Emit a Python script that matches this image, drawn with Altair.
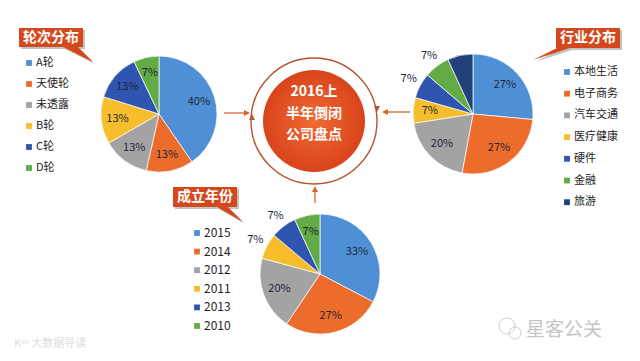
import altair as alt
import pandas as pd

FONT = "Noto Sans CJK SC"
PALETTE = ["#4f8fd6", "#ec6c2c", "#a3a3a3", "#f6be2c", "#2f55b0", "#63ab45", "#22407a"]
ACCENT = "#d4481e"

# ---- data ----
round_cats = ["A轮", "天使轮", "未透露", "B轮", "C轮", "D轮"]
round_vals = [40, 13, 13, 13, 13, 7]
round_modes = ["in", "in", "in", "in", "in", "in"]

ind_cats = ["本地生活", "电子商务", "汽车交通", "医疗健康", "硬件", "金融", "旅游"]
ind_vals = [27, 27, 20, 7, 7, 7, 7]
ind_modes = ["in", "in", "in", "in", "out", "out", "none"]

year_cats = ["2015", "2014", "2012", "2011", "2013", "2010"]
year_vals = [33, 27, 20, 7, 7, 7]
year_modes = ["in", "in", "in", "out", "out", "in"]

color_scale = alt.Scale(domain=list(range(7)), range=PALETTE)
ONE = alt.Data(values=[{}])


def pie(cats, vals, modes, cx, cy, r):
    df = pd.DataFrame({"cat": cats, "val": vals, "mode": modes, "idx": list(range(len(cats)))})
    base = alt.Chart(df).encode(
        theta=alt.Theta("val:Q", stack="normalize"),
        order=alt.Order("idx:Q"),
        x=alt.value(cx), y=alt.value(cy),
    )
    arcs = base.mark_arc(outerRadius=r, stroke="white", strokeWidth=0.7).encode(
        color=alt.Color("idx:O", scale=color_scale, legend=None)
    )
    lab = base.transform_calculate(
        tin="datum.mode == 'in' ? datum.val + '%' : ''",
        tout="datum.mode == 'out' ? datum.val + '%' : ''",
    )
    t_in = lab.mark_text(radius=r * 0.72, font=FONT, fontSize=11, color="#1e2636").encode(text="tin:N")
    t_out = lab.mark_text(radius=r + 13, font=FONT, fontSize=11, color="#1e2636").encode(text="tout:N")
    return [arcs, t_in, t_out]


def legend(cats, sx, tx, y0, dy, fs):
    df = pd.DataFrame({"cat": cats, "idx": list(range(len(cats)))})
    base = alt.Chart(df).transform_calculate(py=f"{y0} + datum.idx * {dy}")
    sq = base.mark_square(size=34, opacity=1).encode(
        x=alt.value(sx), y=alt.Y("py:Q", scale=None),
        color=alt.Color("idx:O", scale=color_scale, legend=None),
    )
    txt = base.mark_text(align="left", baseline="middle", font=FONT, fontSize=fs, color="#222").encode(
        x=alt.value(tx), y=alt.Y("py:Q", scale=None), text="cat:N"
    )
    return [sq, txt]


def shape(path, x, y, color, opacity=1.0):
    return alt.Chart(ONE).mark_point(shape=path, size=4, filled=True, color=color, opacity=opacity, strokeWidth=0).encode(
        x=alt.value(x), y=alt.value(y)
    )


def label(text, x, y, fs, color, weight="normal", align="center"):
    return alt.Chart(ONE).mark_text(font=FONT, fontSize=fs, color=color, fontWeight=weight,
                                    align=align, baseline="middle").encode(
        x=alt.value(x), y=alt.value(y), text=alt.value(text)
    )


def callout(title, x, y, path, tx, ty):
    return [
        shape(path, x + 2, y + 2, "#777", 0.45),
        shape(path, x, y, ACCENT),
        label(title, tx, ty, 14, "white", "bold"),
    ]


layers = []
# callout boxes
layers += callout("轮次分布", 11, 20, "M0,0 L64,0 L64,19 L59,19 L74,34 L44,19 L0,19 Z", 43, 29.5)
layers += callout("行业分布", 548, 20, "M0,0 L64,0 L64,20 L14,20 L-23,32 L1,20 L0,20 Z", 580, 30)
layers += callout("成立年份", 165, 179, "M0,0 L64,0 L64,20 L55,20 L70,35 L44,20 L0,20 Z", 197, 189)

# pies
layers += pie(round_cats, round_vals, round_modes, 151, 106, 58)
layers += pie(ind_cats, ind_vals, ind_modes, 465, 106, 60)
layers += pie(year_cats, year_vals, year_modes, 312, 266, 60)

# legends
layers += legend(round_cats, 21, 28, 55, 21, 11)
layers += legend(ind_cats, 559, 566, 64, 21.7, 11)
layers += legend(year_cats, 189, 196, 225, 18.6, 12)

# central circle
grad = alt.RadialGradient(gradient="radial", stops=[
    alt.GradientStop(offset=0, color="#f06a33"),
    alt.GradientStop(offset=1, color="#d9441b"),
])
layers.append(alt.Chart(ONE).mark_point(shape="circle", size=102 ** 2, filled=True, fill=grad, opacity=1, strokeWidth=0).encode(
    x=alt.value(306), y=alt.value(113)))
layers.append(alt.Chart(ONE).mark_point(shape="circle", size=126 ** 2, filled=False, stroke="#b4532c", strokeWidth=1.4, opacity=1).encode(
    x=alt.value(306), y=alt.value(113)))
layers.append(shape("M0,-4 L-3,2 L3,2 Z", 244, 110, "#b4532c"))
layers.append(shape("M0,4 L-3,-2 L3,-2 Z", 369, 100, "#b4532c"))
layers.append(label("2016上", 306, 84, 14, "white", "bold"))
layers.append(label("半年倒闭", 306, 106, 14, "white", "bold"))
layers.append(label("公司盘点", 306, 127, 14, "white", "bold"))

# arrows
AR = "#d9622b"
layers.append(alt.Chart(ONE).mark_rule(color=AR, strokeWidth=1.3).encode(x=alt.value(216), x2=alt.value(238), y=alt.value(105)))
layers.append(shape("M0,0 L-6,-3 L-6,3 Z", 242, 105, AR))
layers.append(alt.Chart(ONE).mark_rule(color=AR, strokeWidth=1.3).encode(x=alt.value(402), x2=alt.value(378), y=alt.value(104)))
layers.append(shape("M0,0 L6,-3 L6,3 Z", 374, 104, AR))
layers.append(alt.Chart(ONE).mark_rule(color=AR, strokeWidth=1.3).encode(x=alt.value(307), y=alt.value(195), y2=alt.value(182)))
layers.append(shape("M0,0 L-3,6 L3,6 Z", 307, 178, AR))

# watermarks
layers.append(alt.Chart(ONE).mark_point(shape="circle", size=16 ** 2, filled=False, stroke="#cfcfcf", strokeWidth=1, opacity=1).encode(
    x=alt.value(499), y=alt.value(318)))
layers.append(alt.Chart(ONE).mark_point(shape="circle", size=12 ** 2, filled=False, stroke="#cfcfcf", strokeWidth=1, opacity=1).encode(
    x=alt.value(507), y=alt.value(325)))
layers.append(label("星客公关", 518, 322, 19, "#c6c6c6", "normal", "left"))
layers.append(label("K⁹⁹ 大数据导读", 6, 336, 11, "#dddddd", "normal", "left"))

chart = alt.layer(*layers).properties(
    width=624, height=345, padding=0, autosize="none", background="white"
).configure_view(stroke=None)

chart.save("out.html", embed_options={"renderer": "svg", "actions": False})
